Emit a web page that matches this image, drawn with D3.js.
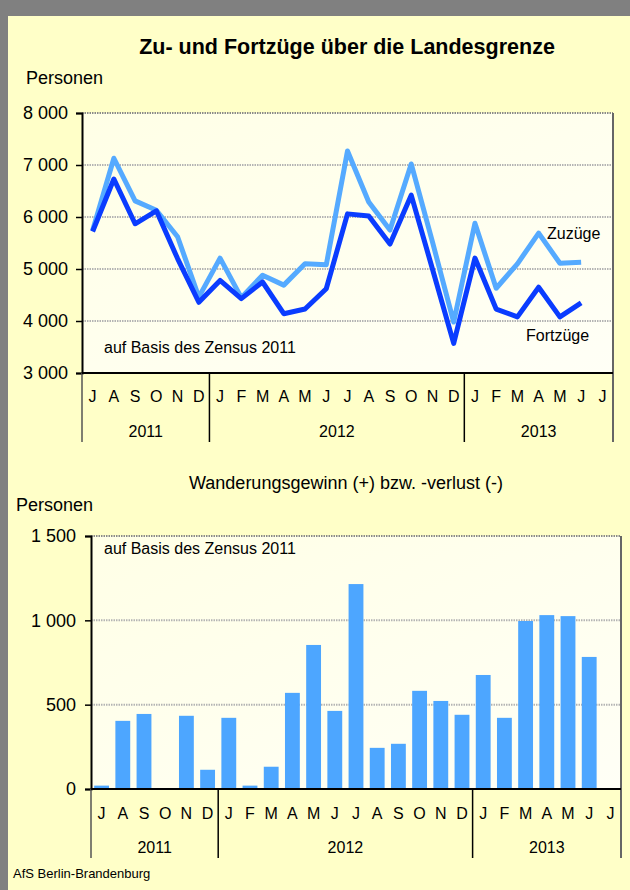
<!DOCTYPE html>
<html>
<head>
<meta charset="utf-8">
<script src="https://cdn.jsdelivr.net/npm/d3@7"></script>
<style>
  body { margin: 0; padding: 0; background: #fff; }
  text { font-family: "Liberation Sans", Arial, sans-serif; fill: #000; }
</style>
</head>
<body>
<div id="chart"></div>
<script>
// month letters, Jul 2011 .. Jul 2013
const months = ["J","A","S","O","N","D","J","F","M","A","M","J","J","A","S","O","N","D","J","F","M","A","M","J","J"];
const yearLabels = ["2011", "2012", "2013"];
const yearLengths = [6, 12, 7];

// Zu- und Fortzüge (persons), Jul 2011 .. Jun 2013
const zuzuege   = [5740, 7130, 6310, 6130, 5620, 4460, 5210, 4450, 4880, 4690, 5100, 5080, 7270, 6290, 5750, 7020, 5520, 3980, 5880, 4630, 5100, 5690, 5110, 5130];
const fortzuege = [5720, 6730, 5870, 6120, 5200, 4360, 4780, 4430, 4750, 4140, 4230, 4620, 6060, 6020, 5480, 6420, 5000, 3570, 5210, 4230, 4080, 4650, 4080, 4350];
// Wanderungsgewinn
const saldo     = [20, 404, 445, 0, 434, 114, 422, 20, 132, 570, 854, 463, 1215, 244, 268, 582, 522, 440, 676, 422, 996, 1031, 1025, 783];

const lineTicks = [3000, 4000, 5000, 6000, 7000, 8000];
const barTicks = [0, 500, 1000, 1500];

const W = 630, H = 890;
const fmt = d3.formatLocale({ thousands: " ", grouping: [3], decimal: ",", currency: ["", ""] }).format(",d");

const svg = d3.select("#chart").append("svg")
    .attr("width", W)
    .attr("height", H);

const defs = svg.append("defs");
const grad = defs.append("linearGradient")
    .attr("id", "plotfill")
    .attr("x1", 0).attr("y1", 0).attr("x2", 1).attr("y2", 1);
grad.append("stop").attr("offset", "0%").attr("stop-color", "#ffffe6");
grad.append("stop").attr("offset", "100%").attr("stop-color", "#fffff6");

// page background with grey frame on top / left
svg.append("rect").attr("width", W).attr("height", H).attr("fill", "#808080");
svg.append("rect").attr("x", 8).attr("y", 16).attr("width", W - 8).attr("height", H - 16).attr("fill", "#ffffc8");

// draws plot frame, grid, y axis and the two-level month/year axis
function drawFrame(box, y, ticks, sepBottom) {
    const x = d3.scaleBand().domain(d3.range(months.length)).range([box.left, box.right]);
    const g = svg.append("g");

    g.append("rect")
        .attr("x", box.left).attr("y", box.top)
        .attr("width", box.right - box.left).attr("height", box.bottom - box.top)
        .attr("fill", "url(#plotfill)");

    // grid lines
    g.selectAll(".grid")
        .data(ticks.slice(1))
        .enter().append("line")
        .attr("x1", box.left).attr("x2", box.right)
        .attr("y1", d => y(d)).attr("y2", d => y(d))
        .attr("stroke", (d, i) => i === ticks.length - 2 ? "#8a8a8a" : "#b4b4b4")
        .attr("stroke-width", 2)
        .attr("stroke-dasharray", "1.5,1");

    // y axis
    const yAxis = d3.axisLeft(y).tickValues(ticks).tickSize(6).tickFormat(fmt);
    const ya = g.append("g").attr("transform", `translate(${box.left},0)`).call(yAxis);
    ya.select(".domain").attr("stroke", "#000").attr("stroke-width", 2);
    ya.selectAll(".tick line").attr("stroke", "#000").attr("stroke-width", 1.5);
    ya.selectAll(".tick text")
        .attr("x", -box.labelGap)
        .style("font-size", "18px")
        .style("font-family", "'Liberation Sans', Arial, sans-serif")
        .attr("fill", "#000");

    // right border
    g.append("line")
        .attr("x1", box.right).attr("x2", box.right)
        .attr("y1", box.top).attr("y2", sepBottom)
        .attr("stroke", "#666").attr("stroke-width", 2);

    // month letters
    g.selectAll(".month")
        .data(months)
        .enter().append("text")
        .attr("x", (d, i) => x(i) + x.bandwidth() / 2)
        .attr("y", box.bottom + box.monthDy)
        .attr("text-anchor", "middle")
        .style("font-size", "16px")
        .text(d => d);

    // year separators and labels
    let start = 0;
    yearLengths.forEach((n, k) => {
        const x0 = x(start);
        const x1 = start + n < months.length ? x(start + n) : box.right;
        g.append("line")
            .attr("x1", x0).attr("x2", x0)
            .attr("y1", box.bottom).attr("y2", sepBottom)
            .attr("stroke", k === 0 ? "#555" : "#000").attr("stroke-width", 1.5);
        g.append("text")
            .attr("x", (x0 + x1) / 2)
            .attr("y", box.bottom + box.yearDy)
            .attr("text-anchor", "middle")
            .style("font-size", "16px")
            .text(yearLabels[k]);
        start += n;
    });

    return { g, x };
}

// ---------- top chart: lines ----------
const upper = { left: 82, right: 613, top: 113, bottom: 373, labelGap: 14, monthDy: 29, yearDy: 64 };
const yLine = d3.scaleLinear().domain([3000, 8000]).range([upper.bottom, upper.top]);
const f1 = drawFrame(upper, yLine, lineTicks, 442);

svg.append("text")
    .attr("x", 347).attr("y", 54)
    .attr("text-anchor", "middle")
    .style("font-size", "21.5px")
    .style("font-weight", "bold")
    .text("Zu- und Fortzüge über die Landesgrenze");

svg.append("text").attr("x", 26).attr("y", 84).style("font-size", "18px").text("Personen");

const line = d3.line()
    .x((d, i) => f1.x(i) + f1.x.bandwidth() / 2)
    .y(d => yLine(d));

f1.g.append("path")
    .datum(zuzuege)
    .attr("d", line)
    .attr("fill", "none")
    .attr("stroke", "#55aaff")
    .attr("stroke-width", 5)
    .attr("stroke-linejoin", "round");

f1.g.append("path")
    .datum(fortzuege)
    .attr("d", line)
    .attr("fill", "none")
    .attr("stroke", "#0a3cff")
    .attr("stroke-width", 5)
    .attr("stroke-linejoin", "round");

// x axis line at 3000 on top of everything
f1.g.append("line")
    .attr("x1", upper.left).attr("x2", upper.right)
    .attr("y1", upper.bottom).attr("y2", upper.bottom)
    .attr("stroke", "#000").attr("stroke-width", 2);

svg.append("text").attr("x", 104).attr("y", 353).style("font-size", "16px").text("auf Basis des Zensus 2011");
svg.append("text").attr("x", 547).attr("y", 239).style("font-size", "16px").text("Zuzüge");
svg.append("text").attr("x", 526).attr("y", 341).style("font-size", "16px").text("Fortzüge");

// ---------- bottom chart: bars ----------
const lower = { left: 91, right: 621, top: 536, bottom: 789, labelGap: 15, monthDy: 30, yearDy: 64 };
const yBar = d3.scaleLinear().domain([0, 1500]).range([lower.bottom, lower.top]);
const f2 = drawFrame(lower, yBar, barTicks, 858);

svg.append("text")
    .attr("x", 346).attr("y", 489)
    .attr("text-anchor", "middle")
    .style("font-size", "18px")
    .text("Wanderungsgewinn (+) bzw. -verlust (-)");

svg.append("text").attr("x", 16).attr("y", 511).style("font-size", "18px").text("Personen");

const xb = f2.x.copy().paddingInner(0.3).paddingOuter(0.15);
f2.g.selectAll(".bar")
    .data(saldo)
    .enter().append("rect")
    .attr("x", (d, i) => xb(i))
    .attr("width", xb.bandwidth())
    .attr("y", d => yBar(d))
    .attr("height", d => yBar(0) - yBar(d))
    .attr("fill", "#4da6ff");

f2.g.append("line")
    .attr("x1", lower.left).attr("x2", lower.right)
    .attr("y1", lower.bottom).attr("y2", lower.bottom)
    .attr("stroke", "#000").attr("stroke-width", 2);

svg.append("text").attr("x", 104).attr("y", 554).style("font-size", "16px").text("auf Basis des Zensus 2011");

svg.append("text").attr("x", 13).attr("y", 878).style("font-size", "13px").text("AfS Berlin-Brandenburg");
</script>
</body>
</html>
